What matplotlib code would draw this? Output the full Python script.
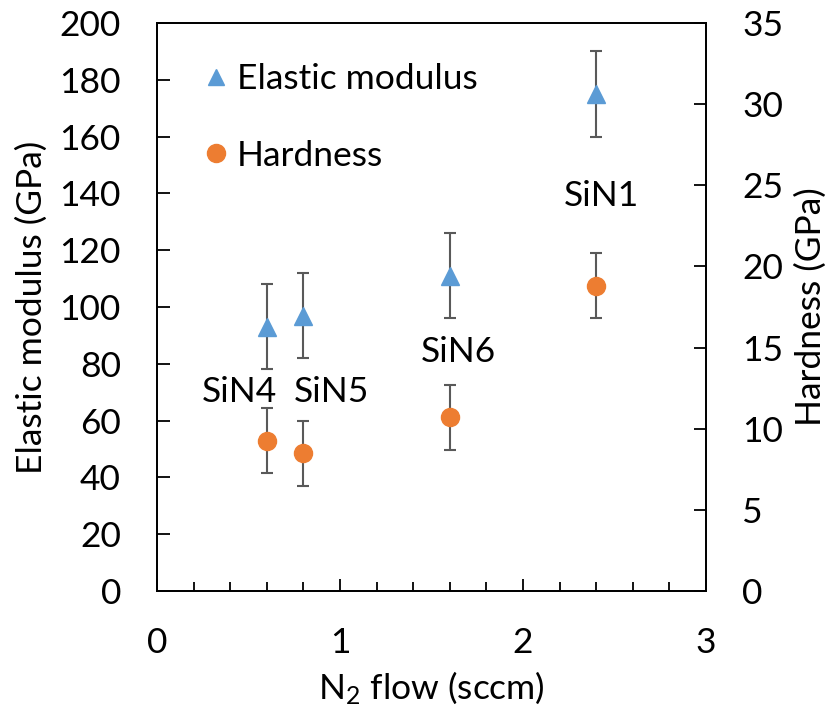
import matplotlib
matplotlib.use('Agg')
import matplotlib.pyplot as plt
from matplotlib.lines import Line2D
from matplotlib.ticker import MultipleLocator

# ── data ─────────────────────────────────────────────────────────────────────
samples   = ['SiN4', 'SiN5', 'SiN6', 'SiN1']
n2_flow   = [0.6, 0.8, 1.6, 2.4]
modulus   = [93, 97, 111, 175]
mod_err   = [15, 15, 15, 15]
hardness  = [9.25, 8.5, 10.7, 18.8]
hard_err  = [2, 2, 2, 2]
label_x   = [0.45, 0.956, 1.645, 2.426]
label_y   = [66.5, 66.5, 80.7, 135.6]

BLUE   = '#5B9BD5'
ORANGE = '#ED7D31'
GREY   = '#595959'
FS = 25.5

plt.rcParams.update({
    'font.family': ['Lato', 'DejaVu Sans'],
    'font.size': FS,
    'mathtext.default': 'regular',
    'axes.linewidth': 1.3,
})

fig = plt.figure(figsize=(8.31, 7.13), dpi=100)
ax = fig.add_axes([157 / 831, 1 - 591 / 713, (706 - 157) / 831, (591 - 23) / 713])
ax2 = ax.twinx()

# elastic modulus (left axis)
ax.errorbar(n2_flow, modulus, yerr=mod_err, fmt='^', color=BLUE, ms=13,
            ecolor=GREY, elinewidth=1.5, capsize=4.5, capthick=1.5, zorder=3)
# hardness (right axis)
ax2.errorbar(n2_flow, hardness, yerr=hard_err, fmt='o', color=ORANGE, ms=13,
             ecolor=GREY, elinewidth=1.5, capsize=4.5, capthick=1.5, zorder=3)

for s, lx, ly in zip(samples, label_x, label_y):
    ax.text(lx, ly, s, ha='center', va='baseline', fontsize=FS)

ax.set_xlim(0, 3)
ax.set_ylim(0, 200)
ax2.set_ylim(0, 35)
ax.xaxis.set_major_locator(MultipleLocator(1))
ax.xaxis.set_minor_locator(MultipleLocator(0.2))
ax.yaxis.set_major_locator(MultipleLocator(20))
ax2.yaxis.set_major_locator(MultipleLocator(5))

ax.tick_params(axis='x', which='major', direction='in', length=9, width=1.3, pad=26)
ax.tick_params(axis='x', which='minor', direction='in', length=6.5, width=1.3)
ax.tick_params(axis='y', direction='in', length=9, width=1.3, pad=26)
ax2.tick_params(axis='y', direction='in', length=9, width=1.3, pad=26)

ax.set_xlabel('N$_2$ flow (sccm)', labelpad=7)
ax.set_ylabel('Elastic modulus (GPa)', labelpad=8)
ax2.set_ylabel('Hardness (GPa)', labelpad=8)

handles = [
    Line2D([0], [0], marker='^', ls='none', color=BLUE, ms=12, label='Elastic modulus'),
    Line2D([0], [0], marker='o', ls='none', color=ORANGE, ms=13, label='Hardness'),
]
ax.legend(handles=handles, loc='upper left', bbox_to_anchor=(0.03, 0.985),
          frameon=False, handlelength=0.6, handletextpad=0.3,
          labelspacing=1.25, fontsize=FS)

fig.savefig('out.png', dpi=100)
